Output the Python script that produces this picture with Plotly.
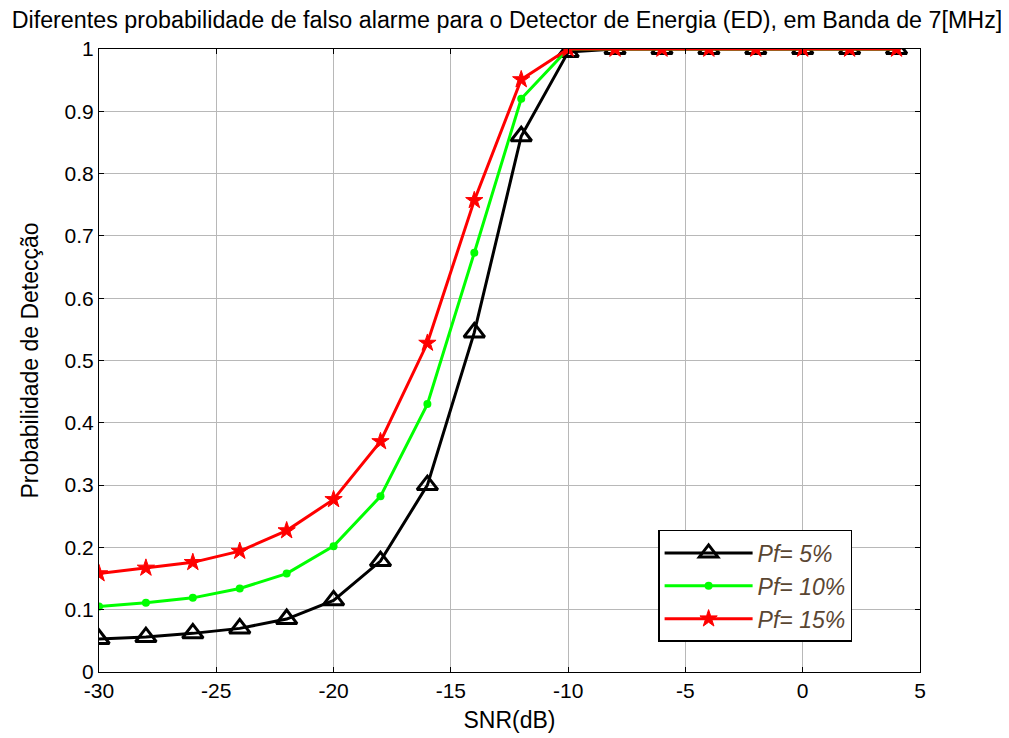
import plotly.graph_objects as go

snr = [-30, -28, -26, -24, -22, -20, -18, -16, -14, -12, -10, -8, -6, -4, -2, 0, 2, 4]
pd_5 = [0.053, 0.056, 0.062, 0.070, 0.085, 0.115, 0.178, 0.300, 0.545, 0.860, 0.995, 1, 1, 1, 1, 1, 1, 1]
pd_10 = [0.105, 0.111, 0.119, 0.134, 0.158, 0.202, 0.282, 0.430, 0.673, 0.920, 1.0, 1, 1, 1, 1, 1, 1, 1]
pd_15 = [0.158, 0.167, 0.176, 0.194, 0.227, 0.277, 0.370, 0.528, 0.757, 0.951, 1.0, 1, 1, 1, 1, 1, 1, 1]
names = ["Pf= 5%", "Pf= 10%", "Pf= 15%"]

x_ticks = [-30, -25, -20, -15, -10, -5, 0, 5]
y_ticks = [0, 0.1, 0.2, 0.3, 0.4, 0.5, 0.6, 0.7, 0.8, 0.9, 1]
y_labels = ["0", "0.1", "0.2", "0.3", "0.4", "0.5", "0.6", "0.7", "0.8", "0.9", "1"]

fig = go.Figure()
fig.add_trace(go.Scatter(x=snr, y=pd_5, name=names[0], mode="lines+markers",
                         line=dict(color="black", width=3),
                         marker=dict(symbol="triangle-up-open", size=18, color="black",
                                     line=dict(width=3, color="black"))))
fig.add_trace(go.Scatter(x=snr, y=pd_10, name=names[1], mode="lines+markers",
                         line=dict(color="#00ff00", width=3),
                         marker=dict(symbol="circle", size=8, color="#00ff00")))
fig.add_trace(go.Scatter(x=snr, y=pd_15, name=names[2], mode="lines+markers",
                         line=dict(color="#ff0000", width=3),
                         marker=dict(symbol="star", size=13, color="#ff0000",
                                     line=dict(width=1, color="#ff0000"))))

font = "Liberation Sans, Arial, sans-serif"
axis_common = dict(showgrid=True, gridcolor="#b8b8b8", gridwidth=1,
                   showline=True, linecolor="black", linewidth=1, mirror="ticks",
                   ticks="inside", ticklen=5, tickcolor="black", zeroline=False,
                   automargin=False,
                   tickfont=dict(family=font, size=21, color="black"))

fig.update_layout(
    width=1001, height=730,
    paper_bgcolor="white", plot_bgcolor="white",
    margin=dict(l=91, r=89, t=41, b=66, autoexpand=False),
    title=dict(text="Diferentes probabilidade de falso alarme para o Detector de Energia (ED), em Banda de 7[MHz]",
               x=0.4985, xanchor="center", xref="container", y=0.9836, yref="container", yanchor="middle",
               automargin=False,
               font=dict(family=font, size=23.3, color="black")),
    xaxis=dict(range=[-30, 5], tickvals=x_ticks, ticktext=[str(v) for v in x_ticks],
               title=dict(text="SNR(dB)", font=dict(family=font, size=23, color="black"), standoff=10),
               **axis_common),
    yaxis=dict(range=[0, 1], tickvals=y_ticks, ticktext=y_labels,
               title=dict(text="Probabilidade de Detecção", font=dict(family=font, size=23, color="black"), standoff=19),
               **axis_common),
    legend=dict(x=0.681, y=0.228, xanchor="left", yanchor="top",
                bgcolor="white", bordercolor="black", borderwidth=1.5,
                font=dict(family=font, size=23, color="#5a4632", style="italic"),
                itemwidth=88, tracegroupgap=0),
    showlegend=True,
)

fig.write_html("out.html")
